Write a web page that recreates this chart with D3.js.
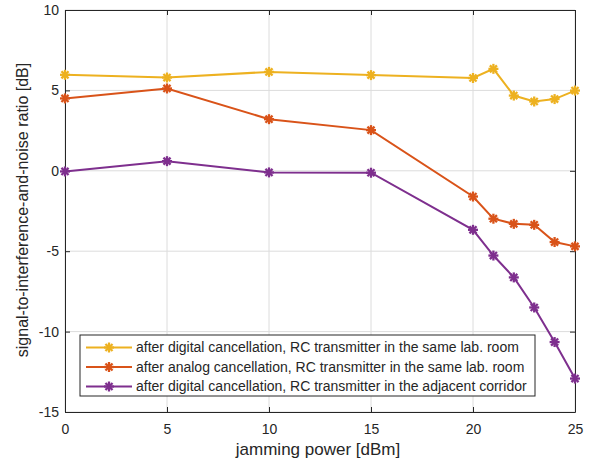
<!DOCTYPE html>
<html>
<head>
<meta charset="utf-8">
<script src="https://cdn.jsdelivr.net/npm/d3@7"></script>
<style>
  body { margin: 0; background: #fff; }
  text { font-family: "Liberation Sans", Arial, sans-serif; fill: #262626; }
</style>
</head>
<body>
<div id="chart"></div>
<script>
// jamming power [dBm]
const jamming = [0, 5, 10, 15, 20, 21, 22, 23, 24, 25];

// SINR [dB] per scenario
const digitalSameRoom = [5.97, 5.8, 6.15, 5.95, 5.77, 6.34, 4.68, 4.31, 4.46, 4.99];
const analogSameRoom = [4.5, 5.12, 3.21, 2.53, -1.6, -2.98, -3.3, -3.36, -4.43, -4.7];
const digitalCorridor = [-0.04, 0.6, -0.1, -0.12, -3.67, -5.27, -6.63, -8.5, -10.65, -12.92];

const seriesNames = [
    "after digital cancellation, RC transmitter in the same lab. room",
    "after analog cancellation, RC transmitter in the same lab. room",
    "after digital cancellation, RC transmitter in the adjacent corridor"
];
const seriesColors = ["#EDB120", "#D95319", "#7E2F8E"];

const xTicks = [0, 5, 10, 15, 20, 25];
const yTicks = [-15, -10, -5, 0, 5, 10];

const width = 593, height = 466;
const margin = {top: 10, right: 18, bottom: 54, left: 65};
const innerW = width - margin.left - margin.right;
const innerH = height - margin.top - margin.bottom;

const svg = d3.select("#chart").append("svg")
    .attr("width", width)
    .attr("height", height);

const g = svg.append("g")
    .attr("transform", `translate(${margin.left},${margin.top})`);

const x = d3.scaleLinear().domain([0, 25]).range([0, innerW]);
const y = d3.scaleLinear().domain([-15, 10]).range([innerH, 0]);

// grid
g.append("g").selectAll("line.vgrid")
    .data(xTicks)
    .enter().append("line")
    .attr("x1", d => x(d)).attr("x2", d => x(d))
    .attr("y1", 0).attr("y2", innerH)
    .attr("stroke", "#dcdcdc").attr("stroke-width", 1);

g.append("g").selectAll("line.hgrid")
    .data(yTicks)
    .enter().append("line")
    .attr("x1", 0).attr("x2", innerW)
    .attr("y1", d => y(d)).attr("y2", d => y(d))
    .attr("stroke", "#dcdcdc").attr("stroke-width", 1);

// axes (ticks inward, box on)
const tickLen = 5;
const fmt = d => d.toString();   // plain hyphen like matlab
const xAxis = d3.axisBottom(x).tickValues(xTicks).tickFormat(fmt).tickSizeInner(-tickLen).tickSizeOuter(0).tickPadding(12);
const yAxis = d3.axisLeft(y).tickValues(yTicks).tickFormat(fmt).tickSizeInner(-tickLen).tickSizeOuter(0).tickPadding(6);
const xAxisTop = d3.axisTop(x).tickValues(xTicks).tickSizeInner(-tickLen).tickSizeOuter(0).tickFormat("");
const yAxisRight = d3.axisRight(y).tickValues(yTicks).tickSizeInner(-tickLen).tickSizeOuter(0).tickFormat("");

function styleAxis(sel) {
    sel.select(".domain").attr("stroke", "#262626").attr("stroke-width", 1);
    sel.selectAll(".tick line").attr("stroke", "#262626");
    sel.selectAll(".tick text")
        .attr("font-size", 14)
        .attr("fill", "#262626")
        .attr("font-family", "Liberation Sans, Arial, sans-serif");
}

g.append("g").attr("transform", `translate(0,${innerH})`).call(xAxis).call(styleAxis);
g.append("g").call(yAxis).call(styleAxis);
g.append("g").call(xAxisTop).call(styleAxis);
g.append("g").attr("transform", `translate(${innerW},0)`).call(yAxisRight).call(styleAxis);

// axis labels
svg.append("text")
    .attr("x", 318)
    .attr("y", 455)
    .attr("text-anchor", "middle")
    .attr("font-size", 17)
    .text("jamming power [dBm]");

svg.append("text")
    .attr("transform", `translate(28,210) rotate(-90)`)
    .attr("text-anchor", "middle")
    .attr("font-size", 16)
    .text("signal-to-interference-and-noise ratio [dB]");

// asterisk marker
function drawMarker(sel, cx, cy, color) {
    const r = 5;
    [0, 45, 90, 135].forEach(a => {
        const rad = a * Math.PI / 180;
        sel.append("line")
            .attr("x1", cx - r * Math.cos(rad)).attr("y1", cy - r * Math.sin(rad))
            .attr("x2", cx + r * Math.cos(rad)).attr("y2", cy + r * Math.sin(rad))
            .attr("stroke", color).attr("stroke-width", 2.3);
    });
}

const allSeries = [digitalSameRoom, analogSameRoom, digitalCorridor];
const line = d3.line().x(d => x(d[0])).y(d => y(d[1]));

allSeries.forEach((vals, i) => {
    const pts = jamming.map((j, k) => [j, vals[k]]);
    g.append("path")
        .datum(pts)
        .attr("d", line)
        .attr("fill", "none")
        .attr("stroke", seriesColors[i])
        .attr("stroke-width", 2);
    const mg = g.append("g");
    pts.forEach(p => drawMarker(mg, x(p[0]), y(p[1]), seriesColors[i]));
});

// legend
const lg = svg.append("g").attr("transform", "translate(80,335)");
lg.append("rect")
    .attr("width", 455).attr("height", 61)
    .attr("fill", "#fff").attr("stroke", "#262626").attr("stroke-width", 1);

seriesNames.forEach((name, i) => {
    const ly = 12.5 + i * 19.5;
    lg.append("line")
        .attr("x1", 6).attr("x2", 52)
        .attr("y1", ly).attr("y2", ly)
        .attr("stroke", seriesColors[i]).attr("stroke-width", 2);
    drawMarker(lg, 29, ly, seriesColors[i]);
    lg.append("text")
        .attr("x", 56).attr("y", ly)
        .attr("dy", "0.35em")
        .attr("font-size", 14)
        .text(name);
});
</script>
</body>
</html>
